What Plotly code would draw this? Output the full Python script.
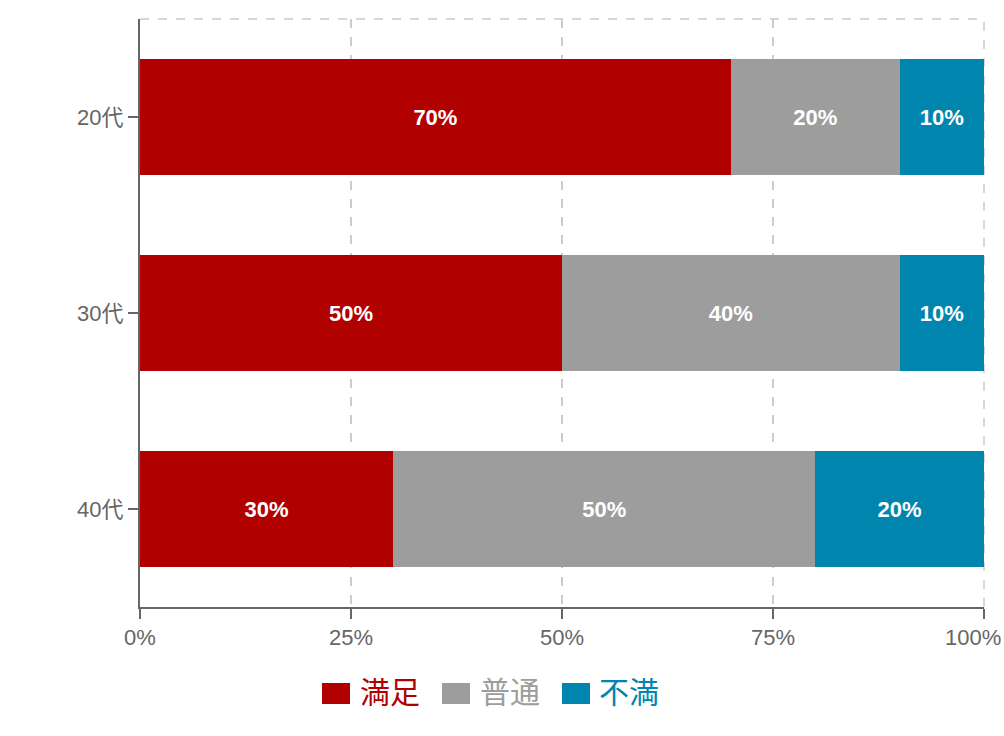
import plotly.graph_objects as go

categories = ["20代", "30代", "40代"]
series_names = ["満足", "普通", "不満"]
satisfied = [70, 50, 30]
neutral = [20, 40, 50]
dissatisfied = [10, 10, 20]
series_values = [satisfied, neutral, dissatisfied]
colors = ["#b00000", "#9d9d9d", "#0085ae"]
x_ticks = [0, 25, 50, 75, 100]
x_tick_labels = ["0%", "25%", "50%", "75%", "100%"]

FONT = "Liberation Sans, Arial, Noto Sans CJK JP, sans-serif"

fig = go.Figure()
for name, vals, col in zip(series_names, series_values, colors):
    fig.add_trace(go.Bar(
        y=categories, x=vals, name=name, orientation="h",
        marker=dict(color=col, line=dict(width=0)),
        text=[f"{v}%" for v in vals], textposition="inside",
        insidetextanchor="middle",
        textfont=dict(color="white", size=22, family=FONT, weight="bold"),
        showlegend=False, hoverinfo="skip",
    ))

L, R, T, B = 140, 20, 19, 129
W, H = 1004, 736
pw, ph = W - L - R, H - T - B

def px2x(px):
    return (px - L) / pw

def py2y(py):
    return (H - B - py) / ph

# last tick label is drawn as an annotation, shifted left so it stays inside the page
shown_tick_text = x_tick_labels[:-1] + [""]

fig.update_layout(
    width=W, height=H, barmode="stack", bargap=0.41,
    margin=dict(l=L, r=R, t=T, b=B, pad=0, autoexpand=False),
    plot_bgcolor="white", paper_bgcolor="white",
    font=dict(family=FONT, color="#666666", size=22),
    xaxis=dict(range=[0, 100], tickvals=x_ticks, ticktext=shown_tick_text,
               showgrid=True, gridcolor="#cccccc", griddash="dash", gridwidth=1.5,
               zeroline=False, showline=True, linecolor="#666666", linewidth=2,
               ticks="outside", ticklen=10, tickcolor="#666666", tickwidth=2,
               ticklabeloverflow="allow", automargin=False,
               tickfont=dict(size=22, color="#666666")),
    yaxis=dict(autorange="reversed", showgrid=False, zeroline=False,
               showline=True, linecolor="#666666", linewidth=2,
               ticks="outside", ticklen=10, tickcolor="#666666", tickwidth=2,
               automargin=False,
               tickfont=dict(size=22, color="#666666")),
)

fig.add_annotation(xref="paper", yref="paper", x=px2x(1002), y=py2y(637),
                   text=x_tick_labels[-1], showarrow=False, xanchor="right",
                   yanchor="middle", borderpad=0,
                   font=dict(size=22, color="#666666", family=FONT))

# top and right dashed border
fig.add_shape(type="line", xref="paper", yref="paper", x0=0, x1=1, y0=1, y1=1,
              line=dict(color="#cccccc", width=1.5, dash="dash"), layer="below")
fig.add_shape(type="line", xref="paper", yref="paper", x0=1, x1=1, y0=0, y1=1,
              line=dict(color="#cccccc", width=1.5, dash="dash"), layer="below")

# custom legend below the chart
legend_items = [(322, 360), (442, 480), (562, 599)]
for (sx, tx), name, col in zip(legend_items, series_names, colors):
    fig.add_shape(type="rect", xref="paper", yref="paper",
                  x0=px2x(sx), x1=px2x(sx + 28), y0=py2y(704), y1=py2y(683),
                  fillcolor=col, line=dict(width=0))
    fig.add_annotation(xref="paper", yref="paper", x=px2x(tx - 2), y=py2y(690),
                       text=name, showarrow=False, xanchor="left", yanchor="middle",
                       font=dict(size=30, color=col, family="Noto Sans CJK JP, sans-serif"))

fig.write_html("out.html", config={"displayModeBar": False},
               post_script="document.body.style.margin='0px';document.body.style.overflow='hidden';")
